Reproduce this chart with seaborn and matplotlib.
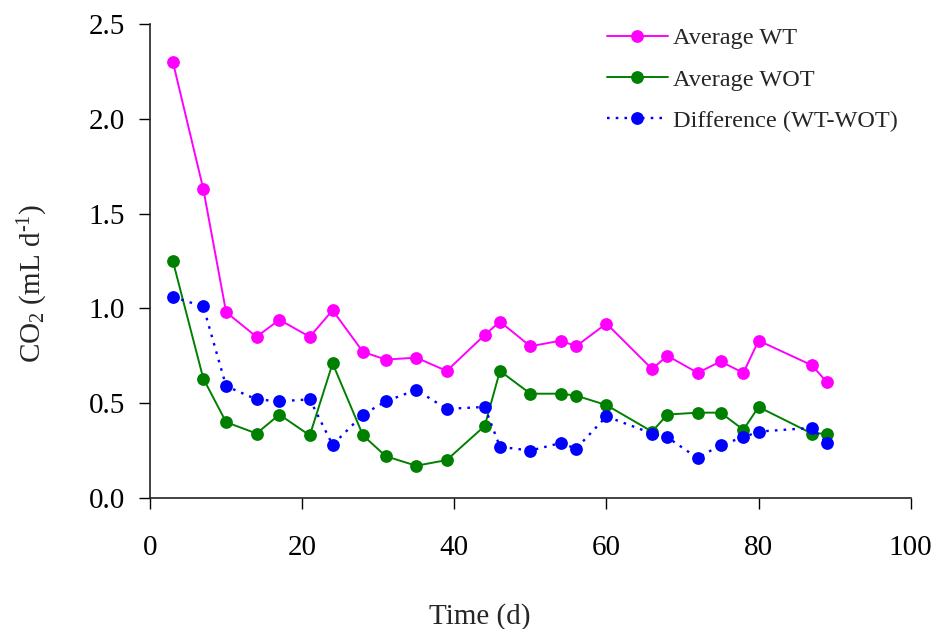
import matplotlib
matplotlib.use("Agg")
import matplotlib.pyplot as plt
import seaborn as sns
import pandas as pd

# Sampling days (d)
days = [3, 7, 10, 14, 17, 21, 24, 28, 31, 35, 39, 44, 46, 50, 54, 56,
        60, 66, 68, 72, 75, 78, 80, 87, 89]

# CO2 production (mL d-1)
avg_wt = [2.30, 1.63, 0.98, 0.85, 0.94, 0.85, 0.99, 0.77, 0.73, 0.74, 0.67,
          0.86, 0.93, 0.80, 0.83, 0.80, 0.92, 0.68, 0.75, 0.66, 0.72, 0.66,
          0.83, 0.70, 0.61]
avg_wot = [1.25, 0.63, 0.40, 0.34, 0.44, 0.33, 0.71, 0.33, 0.22, 0.17, 0.20,
           0.38, 0.67, 0.55, 0.55, 0.54, 0.49, 0.35, 0.44, 0.45, 0.45, 0.36,
           0.48, 0.34, 0.34]
difference = [1.06, 1.01, 0.59, 0.52, 0.51, 0.52, 0.28, 0.44, 0.51, 0.57, 0.47,
              0.48, 0.27, 0.25, 0.29, 0.26, 0.43, 0.34, 0.32, 0.21, 0.28, 0.32,
              0.35, 0.37, 0.29]

series_names = ["Average WT", "Average WOT", "Difference (WT-WOT)"]
x_ticks = [0, 20, 40, 60, 80, 100]
y_ticks = [0.0, 0.5, 1.0, 1.5, 2.0, 2.5]

df = pd.DataFrame({"day": days, "wt": avg_wt, "wot": avg_wot, "diff": difference})

sns.set_theme(style="ticks")
plt.rcParams["font.family"] = ["Liberation Serif", "DejaVu Serif"]
plt.rcParams["mathtext.fontset"] = "custom"
plt.rcParams["mathtext.rm"] = "Liberation Serif"
plt.rcParams["mathtext.it"] = "Liberation Serif:italic"
plt.rcParams["mathtext.bf"] = "Liberation Serif:bold"

fig = plt.figure(figsize=(9.36, 6.29), dpi=100)
ax = fig.add_axes([0.1603, 0.2083, 0.8127, 0.7536])

common = dict(marker="o", markersize=9.2, markeredgewidth=0, ax=ax)
sns.lineplot(data=df, x="day", y="wt", color="#FF00FF", linewidth=1.4,
             label=series_names[0], **common)
sns.lineplot(data=df, x="day", y="wot", color="#008000", linewidth=1.4,
             label=series_names[1], **common)
sns.lineplot(data=df, x="day", y="diff", color="#0000FF", linewidth=1.7,
             linestyle=(0, (1.1, 2.6)), label=series_names[2], **common)

ax.set_xlim(0, 100)
ax.set_ylim(0, 2.5)
ax.set_xticks(x_ticks)
ax.set_yticks(y_ticks)
ax.set_xticklabels([str(t) for t in x_ticks])
ax.set_yticklabels([f"{t:.1f}" for t in y_ticks])

for side in ("top", "right"):
    ax.spines[side].set_visible(False)
for side in ("left", "bottom"):
    ax.spines[side].set_color("#222222")
    ax.spines[side].set_linewidth(1.2)

ax.tick_params(axis="both", direction="out", length=8, width=1.0,
               colors="black", labelsize=21)
ax.tick_params(axis="x", pad=19)
ax.tick_params(axis="y", pad=10)

ax.set_xlabel("Time (d)", fontsize=21)
ax.set_ylabel(r"CO$_\mathregular{2}$ (mL d$^{\text{-1}}$)", fontsize=21)
ax.xaxis.set_label_coords(0.434, -0.222)
ax.yaxis.set_label_coords(-0.132, 0.4536)

leg = ax.legend(loc="upper left", bbox_to_anchor=(0.6485, 0.957),
                bbox_transform=fig.transFigure, frameon=False,
                fontsize=17.5, handlelength=2.5, handletextpad=0.2,
                labelspacing=0.8, borderpad=0, borderaxespad=0)

fig.savefig("out.png", dpi=100)
